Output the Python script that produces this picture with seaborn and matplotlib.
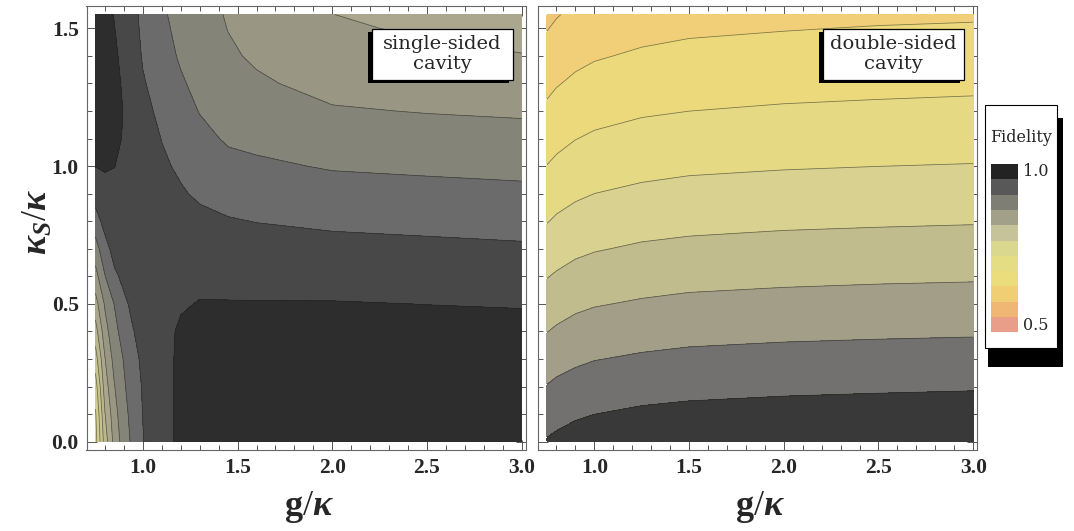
import numpy as np
import matplotlib
matplotlib.use("Agg")
import matplotlib.pyplot as plt
import seaborn as sns
from matplotlib.patches import Rectangle
from matplotlib.ticker import FixedLocator, MultipleLocator, FormatStrFormatter

# grid of the two contour maps
ks_values = [0.0, 0.1, 0.2, 0.3, 0.4, 0.5, 0.6, 0.7, 0.8, 0.9, 1.0,
             1.1, 1.2, 1.3, 1.4, 1.5, 1.55]

g_single = [0.75, 0.8, 0.85, 0.9, 0.95, 1.0, 1.1, 1.2, 1.3, 1.45, 1.6, 2.0, 2.5, 3.0]
# one list per g value, running up in ks
fidelity_single_by_g = [
    [0.765, 0.772, 0.788, 0.813, 0.839, 0.865, 0.891, 0.914, 0.940, 0.960, 0.9755, 0.983, 0.986, 0.987, 0.987, 0.986, 0.985],
    [0.837, 0.849, 0.863, 0.874, 0.890, 0.903, 0.924, 0.942, 0.958, 0.968, 0.977, 0.981, 0.983, 0.984, 0.984, 0.983, 0.982],
    [0.884, 0.891, 0.899, 0.909, 0.918, 0.926, 0.946, 0.958, 0.966, 0.972, 0.9752, 0.978, 0.979, 0.979, 0.978, 0.9755, 0.974],
    [0.912, 0.917, 0.922, 0.9265, 0.935, 0.946, 0.955, 0.962, 0.967, 0.970, 0.972, 0.974, 0.9745, 0.973, 0.970, 0.966, 0.964],
    [0.932, 0.935, 0.939, 0.944, 0.9495, 0.955, 0.960, 0.964, 0.967, 0.969, 0.969, 0.969, 0.967, 0.964, 0.960, 0.956, 0.955],
    [0.949, 0.9505, 0.952, 0.954, 0.956, 0.958, 0.960, 0.961, 0.962, 0.962, 0.961, 0.959, 0.956, 0.952, 0.948, 0.946, 0.945],
    [0.968, 0.968, 0.968, 0.968, 0.968, 0.966, 0.963, 0.961, 0.959, 0.956, 0.953, 0.9495, 0.945, 0.940, 0.935, 0.930, 0.928],
    [0.979, 0.979, 0.979, 0.979, 0.978, 0.973, 0.968, 0.962, 0.957, 0.952, 0.947, 0.941, 0.935, 0.928, 0.922, 0.919, 0.918],
    [0.983, 0.983, 0.983, 0.983, 0.981, 0.976, 0.970, 0.963, 0.955, 0.947, 0.940, 0.932, 0.924, 0.918, 0.914, 0.910, 0.909],
    [0.988, 0.988, 0.988, 0.986, 0.983, 0.976, 0.969, 0.960, 0.9515, 0.9425, 0.932, 0.922, 0.914, 0.908, 0.903, 0.8995, 0.898],
    [0.990, 0.990, 0.989, 0.987, 0.983, 0.976, 0.968, 0.959, 0.9495, 0.940, 0.929, 0.919, 0.911, 0.903, 0.897, 0.893, 0.891],
    [0.990, 0.990, 0.989, 0.987, 0.983, 0.976, 0.967, 0.957, 0.946, 0.935, 0.923, 0.912, 0.902, 0.893, 0.885, 0.878, 0.8752],
    [0.989, 0.989, 0.988, 0.986, 0.981, 0.9748, 0.965, 0.955, 0.944, 0.932, 0.921, 0.910, 0.899, 0.889, 0.880, 0.872, 0.868],
    [0.988, 0.988, 0.987, 0.985, 0.980, 0.974, 0.964, 0.953, 0.942, 0.930, 0.919, 0.908, 0.897, 0.886, 0.876, 0.866, 0.861],
]

g_double = [0.75, 0.8, 0.9, 1.0, 1.25, 1.5, 2.0, 2.5, 3.0]
fidelity_double_by_g = [
    [0.954, 0.928, 0.902, 0.876, 0.849, 0.824, 0.798, 0.773, 0.748, 0.724, 0.701, 0.680, 0.659, 0.638, 0.618, 0.598, 0.588],
    [0.960, 0.935, 0.909, 0.883, 0.856, 0.831, 0.805, 0.780, 0.756, 0.733, 0.709, 0.688, 0.667, 0.647, 0.627, 0.607, 0.597],
    [0.970, 0.944, 0.918, 0.892, 0.866, 0.841, 0.815, 0.791, 0.767, 0.743, 0.721, 0.699, 0.679, 0.658, 0.639, 0.620, 0.610],
    [0.976, 0.9499, 0.924, 0.8985, 0.873, 0.847, 0.822, 0.797, 0.774, 0.7501, 0.728, 0.706, 0.686, 0.666, 0.646, 0.628, 0.618],
    [0.983, 0.958, 0.932, 0.906, 0.881, 0.855, 0.830, 0.806, 0.782, 0.759, 0.737, 0.716, 0.695, 0.675, 0.656, 0.637, 0.628],
    [0.988, 0.962, 0.937, 0.911, 0.886, 0.860, 0.836, 0.811, 0.787, 0.765, 0.742, 0.721, 0.6999, 0.681, 0.662, 0.643, 0.634],
    [0.992, 0.967, 0.941, 0.916, 0.890, 0.865, 0.840, 0.816, 0.792, 0.769, 0.747, 0.726, 0.705, 0.686, 0.667, 0.648, 0.639],
    [0.995, 0.969, 0.944, 0.918, 0.893, 0.868, 0.843, 0.818, 0.795, 0.772, 0.7498, 0.729, 0.708, 0.689, 0.670, 0.652, 0.642],
    [0.997, 0.972, 0.946, 0.920, 0.895, 0.870, 0.845, 0.821, 0.797, 0.774, 0.752, 0.731, 0.711, 0.691, 0.673, 0.654, 0.645],
]

levels_single = [0.75, 0.775, 0.8, 0.825, 0.85, 0.875, 0.9, 0.925, 0.95, 0.975, 1.0]
levels_double = [0.55, 0.6, 0.65, 0.7, 0.75, 0.8, 0.85, 0.9, 0.95, 1.0]

colors_single = ['#dcd689', '#d2cd8c', '#c8c48f', '#bab78d', '#aaa78e',
                 '#999784', '#858479', '#6b6b6b', '#484848', '#2d2d2d']
colors_double = ['#f1c477', '#f1cf79', '#ecd97c', '#e6d983', '#d8d18f',
                 '#c1bc8e', '#a29e88', '#727170', '#393939']

legend_values = ['1.0', '0.5']
legend_colors = ['#232323', '#585858', '#7f7e74', '#a3a08a', '#c6c39a', '#dad88f',
                 '#e5dd83', '#ebdc7c', '#f0cf74', '#f0b673', '#e99e8a']

panel_titles = ['single-sided\ncavity', 'double-sided\ncavity']

sns.set_theme(style="white")
plt.rcParams.update({
    'font.family': ['Liberation Serif', 'DejaVu Serif'],
    'mathtext.fontset': 'custom',
    'mathtext.rm': 'Liberation Serif',
    'mathtext.bf': 'Liberation Serif:bold',
    'mathtext.it': 'Liberation Serif:italic',
    'mathtext.bfit': 'Liberation Serif:italic:bold',
})

W, H = 1074, 531
fig = plt.figure(figsize=(W / 100, H / 100), dpi=100)
fig.patch.set_facecolor('white')


def fig_box(x0, y0, x1, y1):
    # pixel box (top-left origin) -> figure fraction
    return [x0 / W, 1 - y1 / H, (x1 - x0) / W, (y1 - y0) / H]


ax1 = fig.add_axes(fig_box(86.5, 6, 525.5, 450))
ax2 = fig.add_axes(fig_box(538, 6, 977, 450))

panels = [
    (ax1, g_single, fidelity_single_by_g, levels_single, colors_single),
    (ax2, g_double, fidelity_double_by_g, levels_double, colors_double),
]
for i, (ax, g, fid, levels, cols) in enumerate(panels):
    z = np.array(fid).T
    ax.contourf(g, ks_values, z, levels=levels, colors=sns.color_palette(cols))
    ax.contour(g, ks_values, z, levels=levels[1:-1], colors='#1e1e14',
               linewidths=0.55, alpha=0.55)
    ax.set_xlim(0.7025, 3.02)
    ax.set_ylim(-0.030, 1.581)
    ax.set_facecolor('white')
    ax.xaxis.set_major_locator(FixedLocator([1.0, 1.5, 2.0, 2.5, 3.0]))
    ax.xaxis.set_minor_locator(MultipleLocator(0.1))
    ax.yaxis.set_major_locator(FixedLocator([0.0, 0.5, 1.0, 1.5]))
    ax.yaxis.set_minor_locator(MultipleLocator(0.1))
    ax.xaxis.set_major_formatter(FormatStrFormatter('%.1f'))
    ax.yaxis.set_major_formatter(FormatStrFormatter('%.1f'))
    ax.tick_params(which='both', direction='in', top=True, right=True,
                   bottom=True, left=True, color='#555555', width=0.7)
    ax.tick_params(which='major', length=7, labelsize=15.5, pad=5.5)
    ax.tick_params(which='minor', length=3.5)
    for lab in ax.get_xticklabels() + ax.get_yticklabels():
        lab.set_fontweight('bold')
        lab.set_family('Liberation Serif')
    for sp in ax.spines.values():
        sp.set_color('#666666')
        sp.set_linewidth(0.8)
    if i == 1:
        ax.tick_params(labelleft=False)

# axis labels
for cx in [308.6, 760]:
    fig.text(cx / W, 1 - 507 / H, r'$\mathbf{g}/\mathbfit{\kappa}$', fontsize=26,
             ha='center', va='center')
fig.text(38 / W, 1 - 222 / H, r'$\mathbfit{\kappa}_{\mathbfit{S}}/\mathbfit{\kappa}$',
         fontsize=26, rotation=90, ha='center', va='center')

# labels inside the panels, with a dark shadow on the left
for (x0, x1), title in zip([(371.7, 512.7), (823, 964)], panel_titles):
    fig.add_artist(Rectangle(((x0 - 4) / W, 1 - 83 / H), (x1 - x0) / W, 51 / H,
                             transform=fig.transFigure, facecolor='black',
                             edgecolor='none', zorder=5))
    fig.add_artist(Rectangle((x0 / W, 1 - 80 / H), (x1 - x0) / W, 51 / H,
                             transform=fig.transFigure, facecolor='white',
                             edgecolor='black', linewidth=0.9, zorder=6))
    fig.text((x0 + x1) / 2 / W, 1 - 54 / H, title, ha='center', va='center',
             family='DejaVu Serif', fontsize=14, linespacing=1.1, zorder=7)

# fidelity legend
fig.add_artist(Rectangle((988 / W, 1 - 367 / H), 75 / W, 249 / H,
                         transform=fig.transFigure, facecolor='black',
                         edgecolor='none', zorder=5))
fig.add_artist(Rectangle((985 / W, 1 - 348 / H), 72 / W, 243 / H,
                         transform=fig.transFigure, facecolor='white',
                         edgecolor='black', linewidth=0.8, zorder=6))
fig.text(1021 / W, 1 - 137 / H, 'Fidelity', ha='center', va='center',
         family='DejaVu Serif', fontsize=11.5, zorder=7)
sw_h = 15.3
for k, c in enumerate(legend_colors):
    top = 164 + k * sw_h
    fig.add_artist(Rectangle((991 / W, 1 - (top + sw_h) / H), 27 / W, sw_h / H,
                             transform=fig.transFigure, facecolor=c,
                             edgecolor='none', zorder=7))
fig.text(1023 / W, 1 - 171 / H, legend_values[0], ha='left', va='center',
         family='DejaVu Serif', fontsize=11.5, zorder=8)
fig.text(1023 / W, 1 - 325 / H, legend_values[1], ha='left', va='center',
         family='DejaVu Serif', fontsize=11.5, zorder=8)

fig.savefig('out.png', dpi=100, facecolor='white')
